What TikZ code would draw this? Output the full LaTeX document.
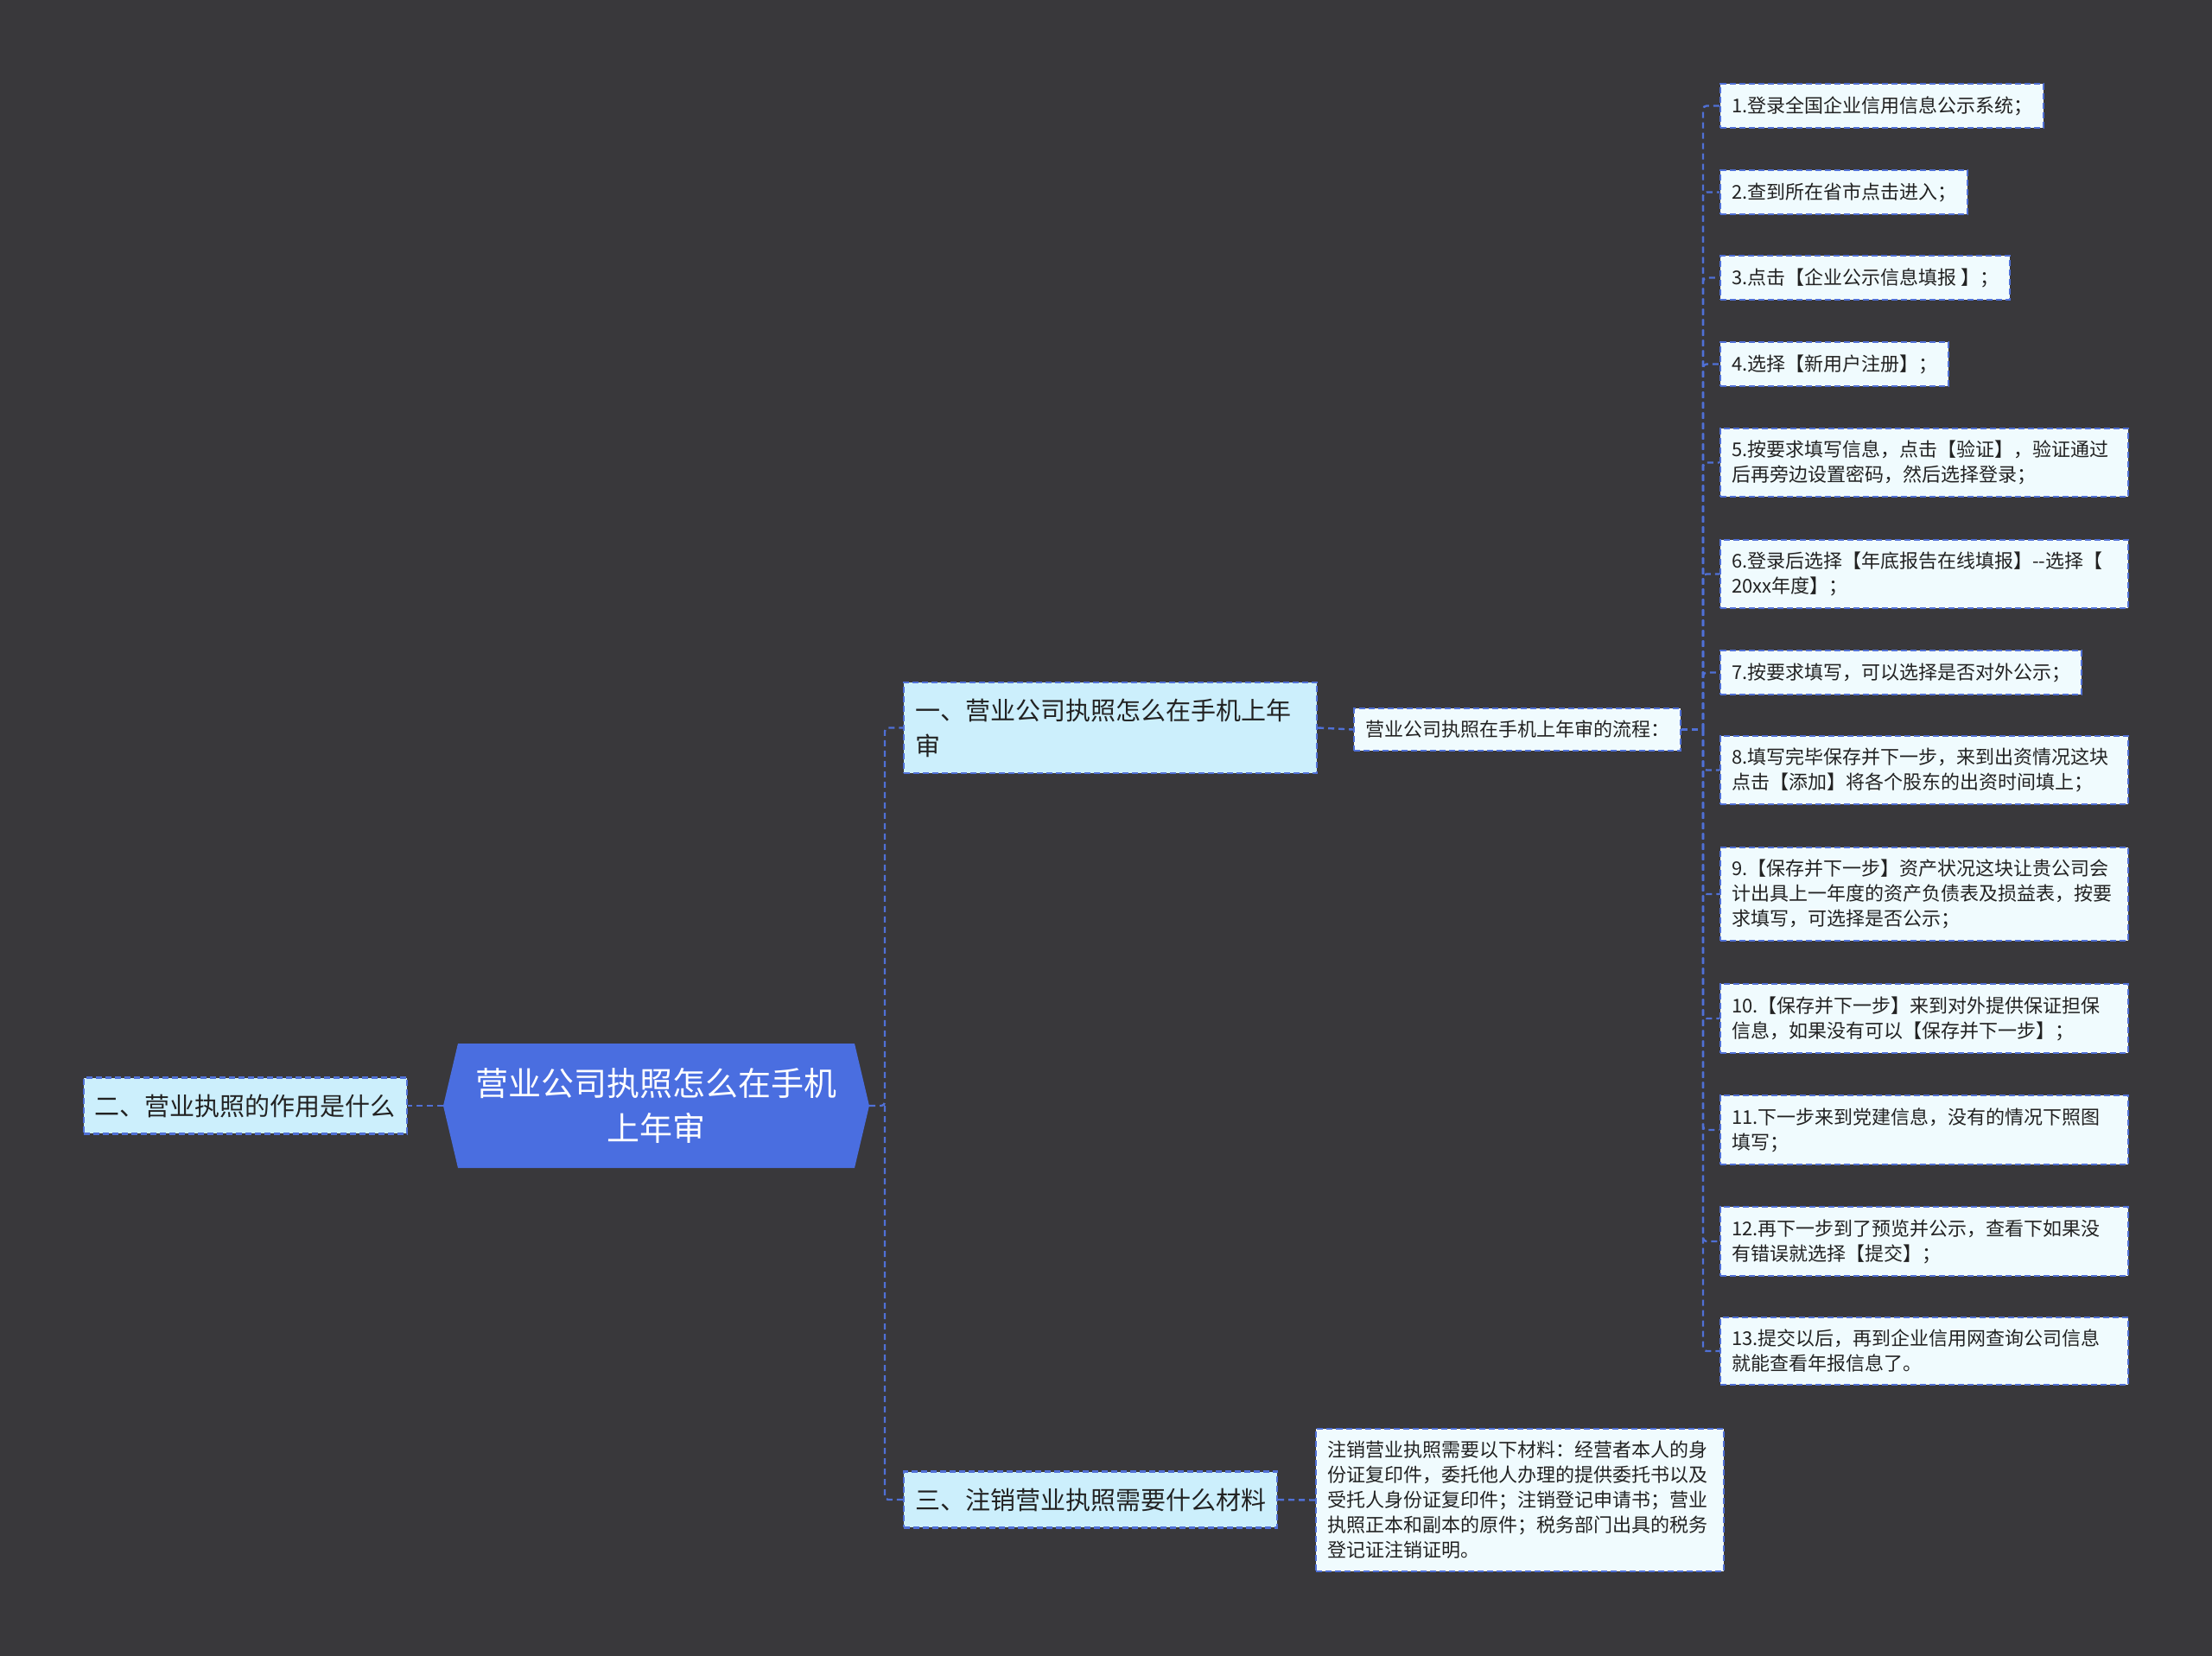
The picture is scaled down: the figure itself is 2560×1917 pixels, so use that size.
\documentclass[tikz,border=0pt]{standalone}
\usepackage{fontspec}
\setmainfont{Noto Sans CJK SC}
\usetikzlibrary{arrows.meta,positioning,calc}
\definecolor{bg}{RGB}{57,56,59}
\definecolor{pri}{RGB}{74,110,224}
\definecolor{edge}{RGB}{80,112,214}
\definecolor{topicfill}{RGB}{204,239,252}
\definecolor{leaffill}{RGB}{240,251,254}
\definecolor{ink}{RGB}{34,34,34}
\tikzset{
  link/.style={draw=edge,line width=2.4pt,dash pattern=on 7pt off 5pt,rounded corners=4pt},
  % first level topics
  topic/.style={
    rectangle,draw=edge,line width=2.2pt,dash pattern=on 7pt off 4pt,
    fill=topicfill,text=ink,
    inner xsep=13pt,inner ysep=19pt,
    font=\fontsize{29}{41}\selectfont,align=left
  },
  leaf/.style={
    rectangle,draw=edge,line width=2pt,dash pattern=on 7pt off 4pt,
    fill=leaffill,text=ink,anchor=west,
    inner xsep=13pt,inner ysep=14pt,
    font=\fontsize{22}{29}\selectfont,align=left
  },
  leafwide/.style={leaf,text width=446pt},
  roottext/.style={rectangle,inner sep=0pt,minimum width=493pt,minimum height=144pt,
    text=white,font=\fontsize{38}{52}\selectfont,align=center},
}

\begin{document}
\begin{tikzpicture}[x=1pt,y=-1pt]
\fill[bg] (0,0) rectangle (2560,1917);

% --- root ---
\fill[pri] (513,1280) -- (530,1208) -- (989,1208) -- (1006,1280) -- (989,1352) -- (530,1352) -- cycle;
\node[roottext] (root) at (759.5,1280) {营业公司执照怎么在手机\\上年审};

% --- topics ---
\node[topic,anchor=east] (t2) at (472,1280) {二、营业执照的作用是什么};
\node[topic,anchor=west,text width=452pt] (t1) at (1045,842.5) {一、营业公司执照怎么在手机上年\\审};
\node[topic,anchor=west] (t3) at (1045,1736) {三、注销营业执照需要什么材料};

% --- flow ---
\node[leaf] (flow) at (1566,844.5) {营业公司执照在手机上年审的流程：};
\node[leafwide] (cancel) at (1522,1736.5) {注销营业执照需要以下材料：经营者本人的身\\份证复印件，委托他人办理的提供委托书以及\\受托人身份证复印件；注销登记申请书；营业\\执照正本和副本的原件；税务部门出具的税务\\登记证注销证明。};

% --- steps ---
\node[leaf] (s1) at (1990,122.5) {1.登录全国企业信用信息公示系统；};
\node[leaf] (s2) at (1990,222.5) {2.查到所在省市点击进入；};
\node[leaf] (s3) at (1990,321.5) {3.点击【企业公示信息填报 】；};
\node[leaf] (s4) at (1990,421.5) {4.选择【新用户注册】；};
\node[leafwide] (s5) at (1990,535.5) {5.按要求填写信息，点击【验证】，验证通过\\后再旁边设置密码，然后选择登录；};
\node[leafwide] (s6) at (1990,664.5) {6.登录后选择【年底报告在线填报】-{}-选择【\\20xx年度】；};
\node[leaf] (s7) at (1990,778.5) {7.按要求填写，可以选择是否对外公示；};
\node[leafwide] (s8) at (1990,891.5) {8.填写完毕保存并下一步，来到出资情况这块\\点击【添加】将各个股东的出资时间填上；};
\node[leafwide] (s9) at (1990,1035) {9.【保存并下一步】资产状况这块让贵公司会\\计出具上一年度的资产负债表及损益表，按要\\求填写，可选择是否公示；};
\node[leafwide] (s10) at (1990,1179) {10.【保存并下一步】来到对外提供保证担保\\信息，如果没有可以【保存并下一步】；};
\node[leafwide] (s11) at (1990,1308) {11.下一步来到党建信息，没有的情况下照图\\填写；};
\node[leafwide] (s12) at (1990,1437) {12.再下一步到了预览并公示，查看下如果没\\有错误就选择【提交】；};
\node[leafwide] (s13) at (1990,1564) {13.提交以后，再到企业信用网查询公司信息\\就能查看年报信息了。};

% --- links ---
\coordinate (hubR) at (1024,1280);
\draw[link] (root.west) -- (t2.east);
\draw[link] (root.east) -- (hubR) |- (t1.west);
\draw[link] (hubR) |- (t3.west);
\draw[link] (t1.east) -- (flow.west);
\draw[link] (t3.east) -- (cancel.west);

\coordinate (hubF) at (1971,844.5);
\draw[link] (flow.east) -- (hubF);
\draw[link] (hubF) |- (s1.west);
\draw[link] (hubF) |- (s2.west);
\draw[link] (hubF) |- (s3.west);
\draw[link] (hubF) |- (s4.west);
\draw[link] (hubF) |- (s5.west);
\draw[link] (hubF) |- (s6.west);
\draw[link] (hubF) |- (s7.west);
\draw[link] (hubF) |- (s8.west);
\draw[link] (hubF) |- (s9.west);
\draw[link] (hubF) |- (s10.west);
\draw[link] (hubF) |- (s11.west);
\draw[link] (hubF) |- (s12.west);
\draw[link] (hubF) |- (s13.west);
\end{tikzpicture}
\end{document}
